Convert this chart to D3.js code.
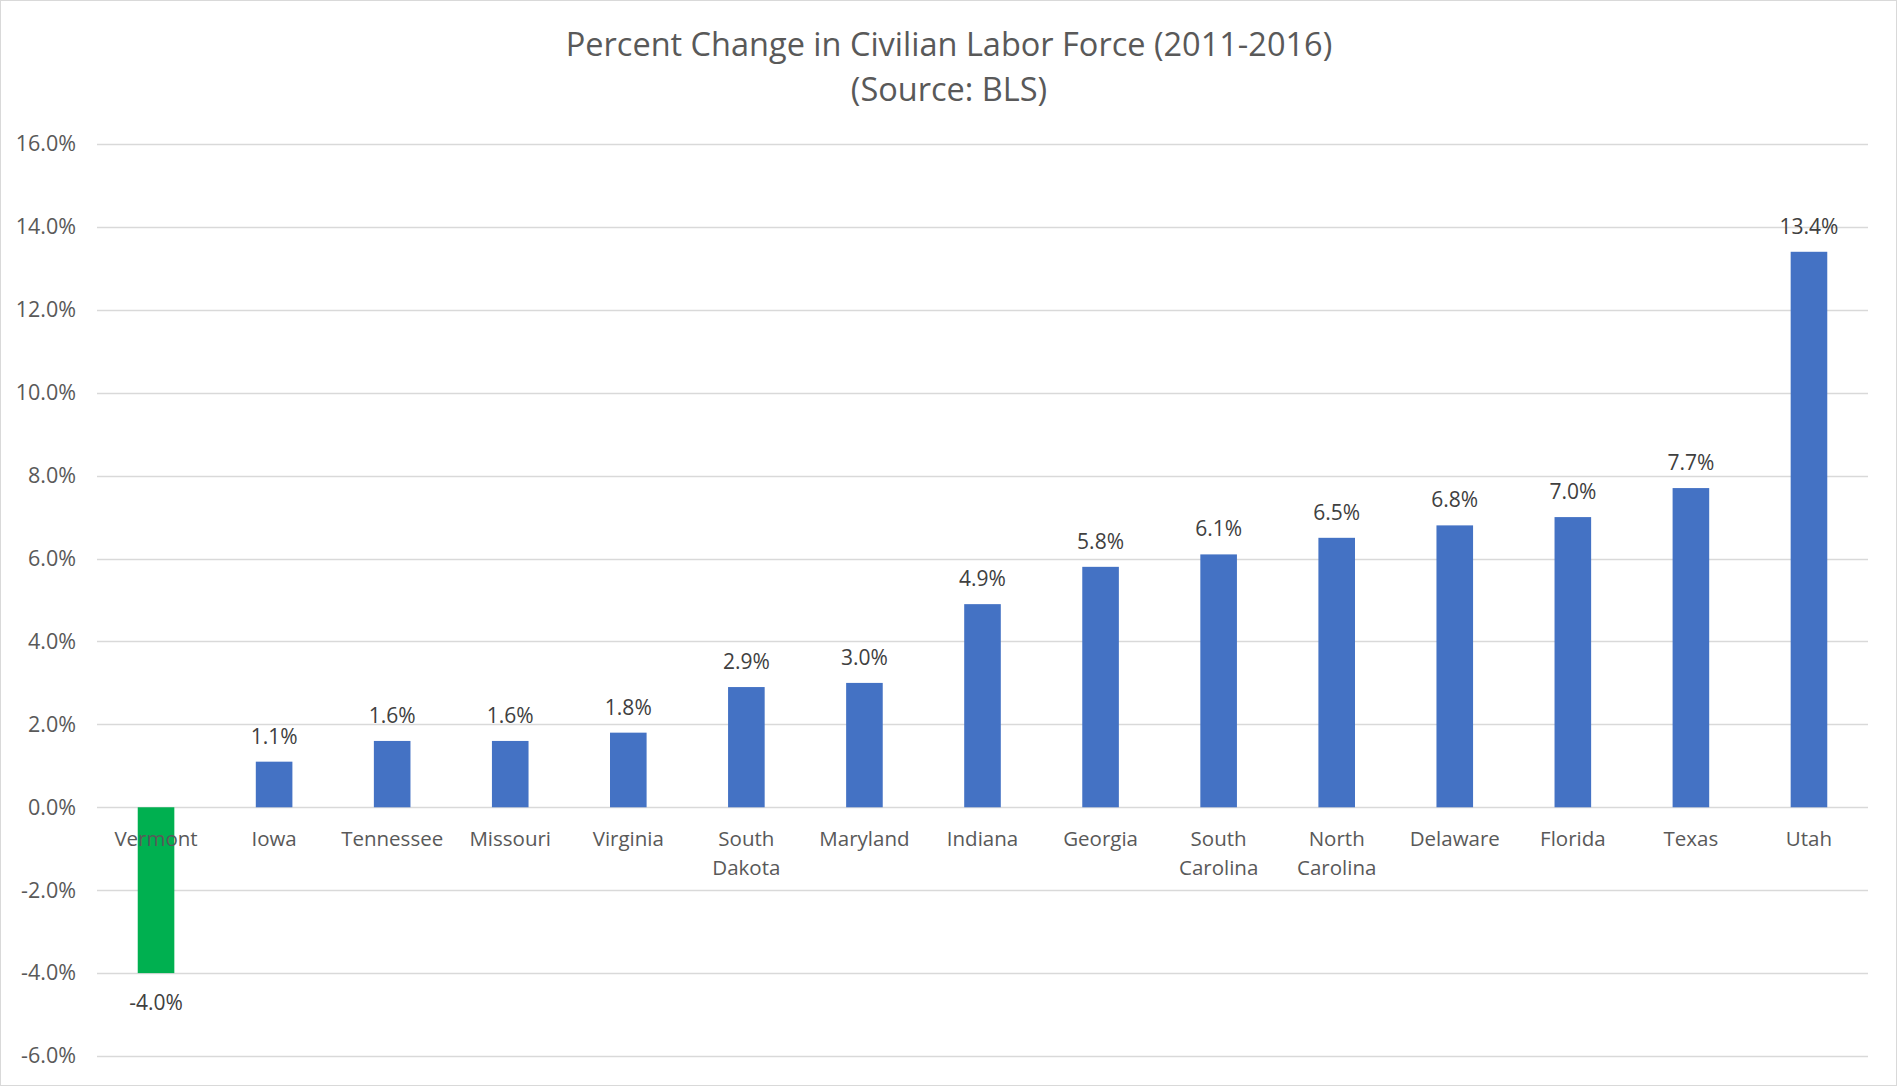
<!DOCTYPE html>
<html>
<head>
<meta charset="utf-8">
<script src="https://cdn.jsdelivr.net/npm/d3@7"></script>
<style>
  html, body { margin: 0; padding: 0; background: #fff; }
  svg { display: block; font-family: "Open Sans", "Noto Sans", sans-serif; }
</style>
</head>
<body>
<svg id="chart" width="1898" height="1087"></svg>
<script>
const titleLines = ["Percent Change in Civilian Labor Force (2011-2016)", "(Source: BLS)"];
const states = ["Vermont", "Iowa", "Tennessee", "Missouri", "Virginia", "South Dakota", "Maryland", "Indiana", "Georgia", "South Carolina", "North Carolina", "Delaware", "Florida", "Texas", "Utah"];
const changePct = [-4.0, 1.1, 1.6, 1.6, 1.8, 2.9, 3.0, 4.9, 5.8, 6.1, 6.5, 6.8, 7.0, 7.7, 13.4];
const yTicks = [-6, -4, -2, 0, 2, 4, 6, 8, 10, 12, 14, 16];

const W = 1898, H = 1087;
const margin = { left: 97, right: 30, top: 144, bottom: 31 };
const svg = d3.select("#chart");
const pct = v => d3.format(".1f")(v).replace("\u2212", "-") + "%";

// chart border
svg.append("rect")
  .attr("x", 0.5).attr("y", 0.5)
  .attr("width", 1896).attr("height", 1085)
  .attr("fill", "#fff").attr("stroke", "#d9d9d9").attr("stroke-width", 1);

const x = d3.scaleBand().domain(states)
  .range([margin.left, W - margin.right])
  .paddingInner(0.69).paddingOuter(0.345);
const y = d3.scaleLinear().domain([-6, 16]).range([H - margin.bottom, margin.top]);

// title
svg.append("text")
  .attr("x", W / 2).attr("y", 56)
  .attr("text-anchor", "middle")
  .attr("fill", "#595959").attr("font-size", 32.5)
  .selectAll("tspan").data(titleLines).join("tspan")
  .attr("x", W / 2).attr("dy", (d, i) => i === 0 ? 0 : 45)
  .text(d => d);

// gridlines
svg.append("g")
  .selectAll("line").data(yTicks).join("line")
  .attr("x1", margin.left).attr("x2", W - margin.right)
  .attr("y1", d => Math.round(y(d)) + 0.5).attr("y2", d => Math.round(y(d)) + 0.5)
  .attr("stroke", "#d9d9d9").attr("stroke-width", 1.5);

// y axis labels
const yAxis = d3.axisLeft(y).tickValues(yTicks).tickSize(0).tickPadding(0)
  .tickFormat(pct);
const gy = svg.append("g").attr("transform", `translate(${margin.left - 21},0)`).call(yAxis);
gy.select(".domain").remove();
gy.selectAll("text").attr("fill", "#595959").attr("font-size", 21.5)
  .attr("font-family", "\"Open Sans\", sans-serif");

// bars
svg.append("g")
  .selectAll("rect").data(states).join("rect")
  .attr("x", d => x(d))
  .attr("width", x.bandwidth())
  .attr("y", (d, i) => Math.min(y(changePct[i]), y(0)))
  .attr("height", (d, i) => Math.abs(y(changePct[i]) - y(0)))
  .attr("fill", (d, i) => changePct[i] < 0 ? "#00b050" : "#4472c4");

// category labels (drawn over bars)
const xAxis = d3.axisBottom(x).tickSize(0).tickPadding(0);
const gx = svg.append("g").attr("transform", `translate(0,${y(0)})`).call(xAxis);
gx.select(".domain").remove();
gx.selectAll("text").each(function(d) {
  const t = d3.select(this);
  const words = d.split(" ");
  t.text(null).attr("fill", "#595959").attr("font-size", 20.5)
    .attr("font-family", "\"Open Sans\", sans-serif").attr("dy", null).attr("y", 0);
  words.forEach((w, i) => {
    t.append("tspan").attr("x", 0).attr("y", 39 + i * 29).text(w);
  });
});

// data labels
svg.append("g")
  .selectAll("text").data(states).join("text")
  .attr("x", d => x(d) + x.bandwidth() / 2)
  .attr("y", (d, i) => changePct[i] < 0 ? y(changePct[i]) + 37 : y(changePct[i]) - 18)
  .attr("text-anchor", "middle")
  .attr("fill", "#404040").attr("font-size", 21)
  .text((d, i) => pct(changePct[i]));
</script>
</body>
</html>
